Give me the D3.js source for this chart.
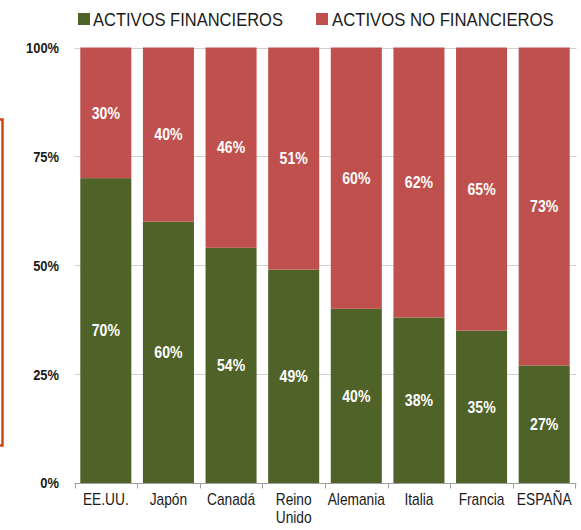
<!DOCTYPE html>
<html>
<head>
<meta charset="utf-8">
<script src="https://cdn.jsdelivr.net/npm/d3@7"></script>
<style>
  html, body { margin: 0; padding: 0; background: #fff; }
  svg { display: block; }
  text { font-family: "Liberation Sans", Arial, sans-serif; }
</style>
</head>
<body>
<svg id="chart" width="581" height="530"></svg>
<script>
const categories = ["EE.UU.", "Japón", "Canadá", "Reino Unido", "Alemania", "Italia", "Francia", "ESPAÑA"];
const financieros = [70, 60, 54, 49, 40, 38, 35, 27];
const noFinancieros = [30, 40, 46, 51, 60, 62, 65, 73];
const yTicks = [0, 25, 50, 75, 100];
const seriesNames = ["ACTIVOS FINANCIEROS", "ACTIVOS NO FINANCIEROS"];
const colors = ["#4f6228", "#c0504d"];

const svg = d3.select("#chart");

// narrow text helper: horizontally condensed text (like Arial Narrow)
function narrow(parent, px, py, str, opts) {
  const g = parent.append("g")
    .attr("transform", `translate(${px},${py}) scale(${opts.sx || 0.82},1)`);
  const t = g.append("text")
    .attr("x", 0).attr("y", 0)
    .attr("font-size", opts.size)
    .attr("font-weight", opts.weight || "normal")
    .attr("fill", opts.fill || "#1a1a1a")
    .attr("text-anchor", opts.anchor || "start")
    .attr("dy", opts.dy || 0)
    .text(str);
  return t;
}

// decorative orange frame edge at left
svg.append("rect")
  .attr("x", -20).attr("y", 119.5)
  .attr("width", 22.5).attr("height", 326)
  .attr("fill", "none")
  .attr("stroke", "#d2460f")
  .attr("stroke-width", 2.5);

const x = d3.scaleBand()
  .domain(categories)
  .range([74.5, 575.5])
  .paddingInner(0.185)
  .paddingOuter(0.0925);

const y = d3.scaleLinear().domain([0, 100]).range([483, 47.5]);

// gridlines
svg.append("g")
  .selectAll("line")
  .data(yTicks.filter(d => d > 0))
  .join("line")
  .attr("x1", 74.5).attr("x2", 576.5)
  .attr("y1", d => Math.round(y(d)) + 0.5)
  .attr("y2", d => Math.round(y(d)) + 0.5)
  .attr("stroke", "#d0d0d0")
  .attr("stroke-width", 1);

// y labels
const yl = svg.append("g");
yTicks.forEach(d => {
  narrow(yl, 59, y(d), d + "%", { size: 15, weight: "bold", anchor: "end", dy: "0.36em", sx: 0.86 });
});

const data = categories.map((c, i) => ({ c, f: financieros[i], n: noFinancieros[i] }));

const bars = svg.append("g");
bars.selectAll("rect.f")
  .data(data)
  .join("rect")
  .attr("class", "f")
  .attr("x", d => x(d.c))
  .attr("width", x.bandwidth())
  .attr("y", d => y(d.f))
  .attr("height", d => y(0) - y(d.f))
  .attr("fill", colors[0]);
bars.selectAll("rect.n")
  .data(data)
  .join("rect")
  .attr("class", "n")
  .attr("x", d => x(d.c))
  .attr("width", x.bandwidth())
  .attr("y", d => y(d.f + d.n))
  .attr("height", d => y(d.f) - y(d.f + d.n))
  .attr("fill", colors[1]);

// value labels
const lab = svg.append("g");
data.forEach(d => {
  const cx = x(d.c) + x.bandwidth() / 2;
  narrow(lab, cx, (y(0) + y(d.f)) / 2, d.f + "%", { size: 16, weight: "bold", fill: "#ffffff", anchor: "middle", dy: "0.36em", sx: 0.88 });
  narrow(lab, cx, (y(d.f) + y(d.f + d.n)) / 2, d.n + "%", { size: 16, weight: "bold", fill: "#ffffff", anchor: "middle", dy: "0.36em", sx: 0.88 });
});

// x axis baseline and ticks
const axisG = svg.append("g");
axisG.append("line")
  .attr("x1", 74.5).attr("x2", 576.5)
  .attr("y1", 483.5).attr("y2", 483.5)
  .attr("stroke", "#a0a0a0");
const boundaries = categories.map(c => x(c) - x.step() * x.paddingInner() / 2);
boundaries.push(x(categories[categories.length - 1]) + x.bandwidth() + x.step() * x.paddingInner() / 2);
axisG.selectAll("line.t")
  .data(boundaries)
  .join("line")
  .attr("class", "t")
  .attr("x1", d => Math.round(d) + 0.5).attr("x2", d => Math.round(d) + 0.5)
  .attr("y1", 483.5).attr("y2", 488.5)
  .attr("stroke", "#a0a0a0");

// category labels
categories.forEach(c => {
  const parts = c === "Reino Unido" ? ["Reino", "Unido"] : [c];
  parts.forEach((p, i) => {
    narrow(axisG, x(c) + x.bandwidth() / 2, 505 + i * 18, p, { size: 16, anchor: "middle", sx: 0.86 });
  });
});

// legend
const legend = svg.append("g");
const legendItems = [
  { name: seriesNames[0], color: colors[0], sx: 78, tx: 93, w: 190 },
  { name: seriesNames[1], color: colors[1], sx: 316, tx: 332, w: 222 }
];
legendItems.forEach(it => {
  legend.append("rect")
    .attr("x", it.sx).attr("y", 13)
    .attr("width", 12).attr("height", 12)
    .attr("fill", it.color);
  const t = narrow(legend, it.tx, 26, it.name, { size: 19, sx: 1 });
  const natural = t.node().getComputedTextLength();
  d3.select(t.node().parentNode)
    .attr("transform", `translate(${it.tx},26) scale(${it.w / natural},1)`);
});
</script>
</body>
</html>
